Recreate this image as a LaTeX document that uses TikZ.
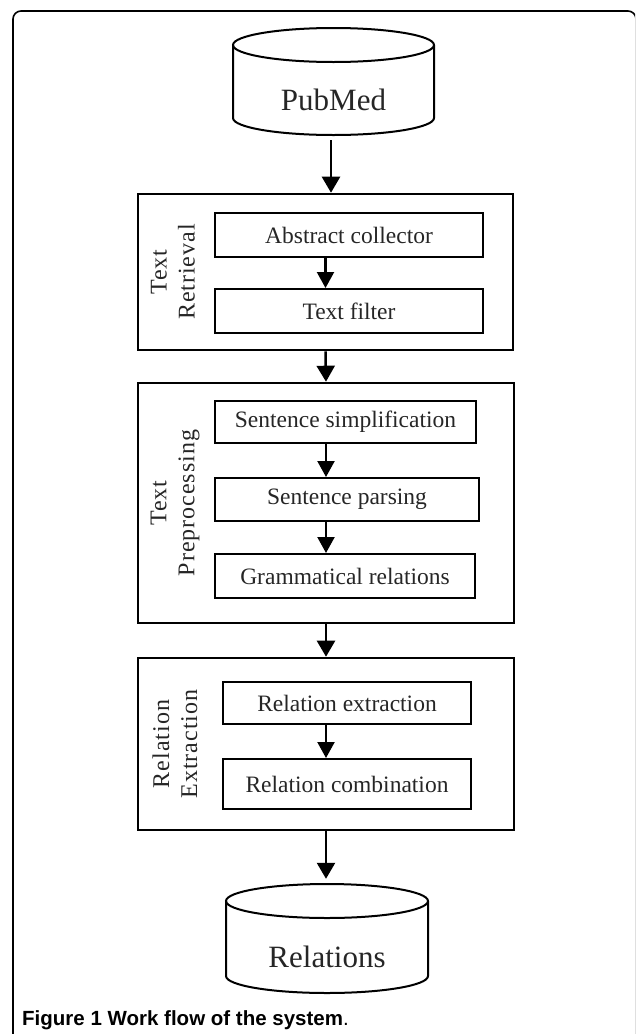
\documentclass[tikz,border=0pt]{standalone}
\usepackage{fontspec}
\setmainfont{Liberation Serif}
\newfontfamily\capfont{Liberation Sans}
\newfontfamily\spacedfont[LetterSpace=4]{Liberation Serif}
\usetikzlibrary{arrows.meta}
\definecolor{txt}{gray}{0.15}
\tikzset{
  frame/.style={line width=1.6pt, rounded corners=8pt},
  outerbox/.style={draw, line width=2.6pt, inner sep=0pt},
  inbox/.style={draw, line width=2pt, inner sep=0pt, text=txt, font=\fontsize{23.5}{28}\selectfont},
  sidelabel/.style={rotate=90, align=center, text=txt, font=\spacedfont\fontsize{24}{28}\selectfont, inner sep=0pt},
  dbbox/.style={inner sep=0pt},
  dbtext/.style={text=txt, font=\fontsize{31}{36}\selectfont, inner sep=0pt},
  cyl/.style={line width=2pt},
  flow/.style={line width=2.5pt, -{Triangle[width=18pt,length=16pt]}},
  smallflow/.style={line width=2.2pt, -{Triangle[width=17pt,length=16pt]}}
}
\begin{document}
\begin{tikzpicture}[x=1pt, y=-1pt]
\useasboundingbox (0,0) rectangle (635,1034);
\begin{scope}
\clip (0,0) rectangle (635,1034);
\draw[frame] (13,11) rectangle (636,1060);
\end{scope}

% PubMed cylinder
\node[dbbox, minimum width=201pt, minimum height=108pt] (pub) at (333.5,81) {};
\draw[cyl, fill=white] (333.5,45) ellipse [x radius=100.5pt, y radius=17pt];
\draw[cyl] (233,45) -- (233,118) arc[start angle=180, end angle=360, x radius=100.5pt, y radius=17pt] -- (434,45);
\node[dbtext] (pubt) at (333.5,100) {PubMed};

% Text Retrieval
\node[outerbox, minimum width=375pt, minimum height=156pt] (tr) at (325.5,272) {};
\node[sidelabel] (trl) at (173,272) {Text\\Retrieval};
\node[inbox, minimum width=268pt, minimum height=44pt] (ac) at (349,235) {Abstract collector};
\node[inbox, minimum width=268pt, minimum height=44pt] (tf) at (349,311) {Text filter};

% Text Preprocessing
\node[outerbox, minimum width=376pt, minimum height=240pt] (tp) at (326,503) {};
\node[sidelabel] (tpl) at (175,503) {Text\\Preprocessing};
\node[inbox, minimum width=261pt, minimum height=42pt] (ss) at (345.5,422) {Sentence simplification};
\node[inbox, minimum width=264pt, minimum height=43pt] (sp) at (347,499.5) {Sentence parsing};
\node[inbox, minimum width=260pt, minimum height=44pt] (gr) at (345,576) {Grammatical relations};

% Relation Extraction
\node[outerbox, minimum width=376pt, minimum height=172pt] (re) at (326,744) {};
\node[sidelabel] (rel) at (175,744) {Relation\\Extraction};
\node[inbox, minimum width=248pt, minimum height=42pt] (rx) at (347,703) {Relation extraction};
\node[inbox, minimum width=248pt, minimum height=50pt] (rc) at (347,784) {Relation combination};

% Relations cylinder
\node[dbbox, minimum width=202pt, minimum height=109pt] (rdb) at (327,938.5) {};
\draw[cyl, fill=white] (327,901) ellipse [x radius=101pt, y radius=17pt];
\draw[cyl] (226,901) -- (226,976) arc[start angle=180, end angle=360, x radius=101pt, y radius=17pt] -- (428,901);
\node[dbtext] (rdbt) at (327,957) {Relations};

% connectors
\draw[flow, shorten <=5pt] (pub.south -| 331,0) -- (tr.north -| 331,0);
\draw[flow] (tr.south) -- (tp.north);
\draw[flow] (tp.south) -- (re.north);
\draw[flow, shorten >=5pt] (re.south) -- (rdb.north -| re.south);

\draw[smallflow] (ac.south -| tr.south) -- (tf.north -| tr.south);
\draw[smallflow] (ss.south -| tp.south) -- (sp.north -| tp.south);
\draw[smallflow] (sp.south -| tp.south) -- (gr.north -| tp.south);
\draw[smallflow] (rx.south -| re.south) -- (rc.north -| re.south);

% caption
\node[anchor=base west, inner sep=0pt, font=\capfont\fontsize{20.5}{24}\selectfont] (cap) at (22,1025) {\bfseries Figure 1 Work flow of the system\mdseries.};
\end{tikzpicture}
\end{document}
